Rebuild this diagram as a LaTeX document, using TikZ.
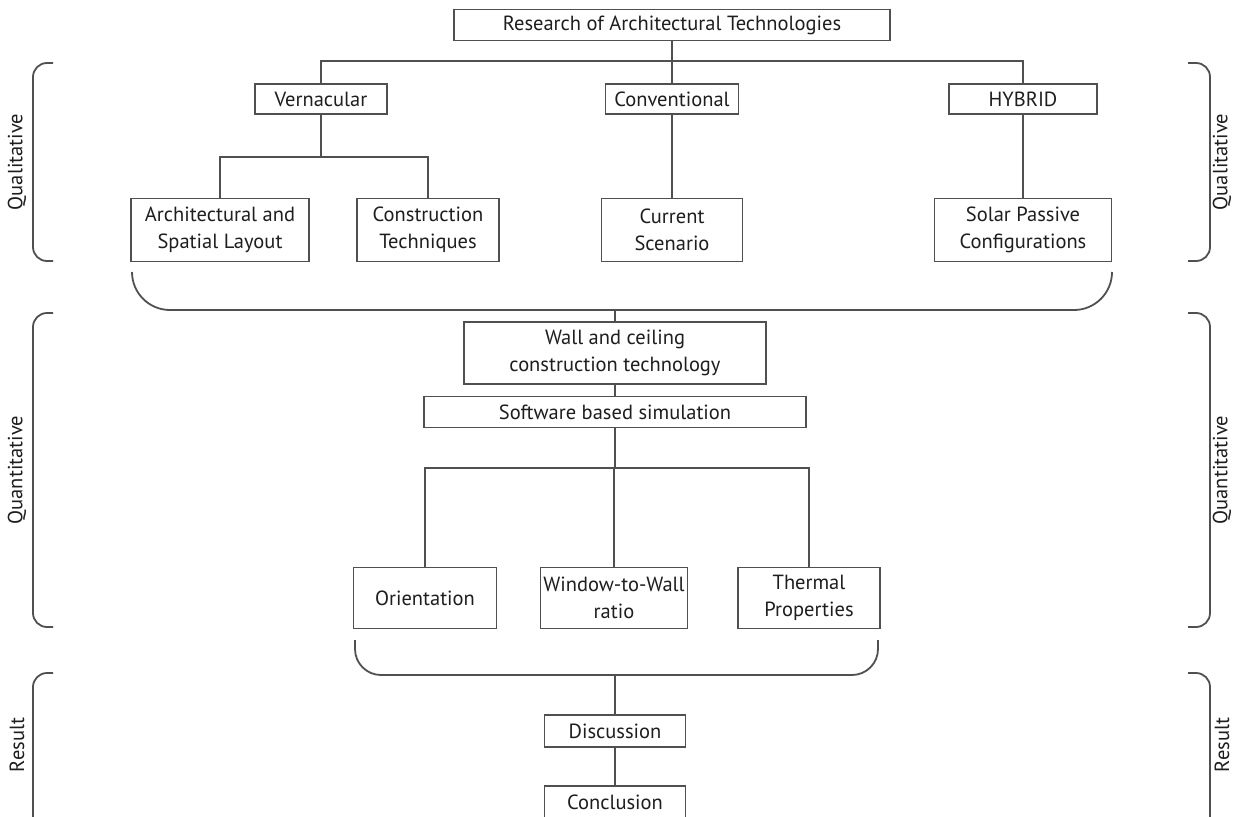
\documentclass[tikz,border=0pt]{standalone}
\usepackage{fontspec}
\setmainfont{PT Sans}
\usetikzlibrary{positioning}
\definecolor{linegray}{RGB}{80,80,80}
\definecolor{textgray}{RGB}{30,30,30}

\begin{document}
\begin{tikzpicture}[
    x=1pt, y=-1pt,
    box/.style={rectangle, draw=linegray, line width=1.4pt, inner sep=0pt, align=center, text=textgray, font=\fontsize{20.5}{27}\selectfont},
    link/.style={draw=linegray, line width=1.4pt},
    bracket/.style={draw=linegray, line width=1.8pt, rounded corners=14pt},
    group/.style={draw=linegray, line width=1.8pt},
    side/.style={rotate=90, text=textgray, font=\fontsize{20.5}{27}\selectfont}
]
    \useasboundingbox[fill=white] (0,0) rectangle (1236,816);

    % qualitative part
    \node[box, minimum width=436pt, minimum height=31pt] (research) at (672,25) {Research of Architectural Technologies};
    \node[box, minimum width=132pt, minimum height=30pt] (vern) at (321,99) {Vernacular};
    \node[box, minimum width=133pt, minimum height=30pt] (conv) at (672,99) {Conventional};
    \node[box, minimum width=148pt, minimum height=30pt] (hyb) at (1023,99) {HYBRID};
    \node[box, minimum width=178pt, minimum height=63pt] (arch) at (220,230) {Architectural and\\Spatial Layout};
    \node[box, minimum width=142pt, minimum height=63pt] (cons) at (428,230) {Construction\\Techniques};
    \node[box, minimum width=141pt, minimum height=63pt] (curr) at (672,230) {Current\\Scenario};
    \node[box, minimum width=177pt, minimum height=63pt] (solar) at (1023,230) {Solar Passive\\Configurations};

    \coordinate (bar1) at (672,61);
    \coordinate (bar2) at (321,157);
    \draw[link] (research) -- (conv);
    \draw[link] (vern) |- (bar1) -| (hyb);
    \draw[link] (conv) -- (curr);
    \draw[link] (hyb) -- (solar);
    \draw[link] (vern) -- (bar2);
    \draw[link] (arch.north) |- (bar2) -| (cons.north);

    \draw[group, rounded corners=38pt] (132,272) -- (132,310) -- (1112,310) -- (1112,272);
    \coordinate (brace1) at (615,310);

    % quantitative part
    \node[box, minimum width=302pt, minimum height=62pt] (wall) at (615,353) {Wall and ceiling\\construction technology};
    \node[box, minimum width=382pt, minimum height=31pt] (soft) at (615,412) {Software based simulation};
    \node[box, minimum width=143pt, minimum height=61pt] (orient) at (425,598) {Orientation};
    \node[box, minimum width=147pt, minimum height=61pt] (wwr) at (614,598) {Window-to-Wall\\ratio};
    \node[box, minimum width=142pt, minimum height=61pt] (therm) at (809,598) {Thermal\\Properties};

    \coordinate (bar3) at (615,468);
    \draw[link] (brace1) -- (wall);
    \draw[link] (wall) -- (soft);
    \draw[link] (soft) -- (bar3);
    \draw[link] (orient) |- (bar3) -| (therm);
    \draw[link] (wwr) -- (wwr |- bar3);

    \draw[group, rounded corners=26pt] (355,640) -- (355,675) -- (878,675) -- (878,640);
    \coordinate (brace2) at (615,675);

    % result part
    \node[box, minimum width=141pt, minimum height=32pt] (disc) at (615,731) {Discussion};
    \node[box, minimum width=141pt, minimum height=32pt] (concl) at (615,802) {Conclusion};
    \draw[link] (brace2) -- (disc);
    \draw[link] (disc) -- (concl);

    % side brackets
    \draw[bracket] (53,63) -- (33,63) -- (33,261) -- (53,261);
    \draw[bracket] (53,313) -- (33,313) -- (33,627) -- (53,627);
    \draw[bracket] (53,673) -- (33,673) -- (33,830);
    \draw[bracket] (1188,63) -- (1210,63) -- (1210,261) -- (1188,261);
    \draw[bracket] (1188,313) -- (1210,313) -- (1210,627) -- (1188,627);
    \draw[bracket] (1188,673) -- (1210,673) -- (1210,830);

    \node[side] (qualL) at (17,162) {Qualitative};
    \node[side] (quanL) at (17,470) {Quantitative};
    \node[side] (resL) at (17,745) {Result};
    \node[side] (qualR) at (1222,162) {Qualitative};
    \node[side] (quanR) at (1222,470) {Quantitative};
    \node[side] (resR) at (1222,745) {Result};
\end{tikzpicture}
\end{document}
